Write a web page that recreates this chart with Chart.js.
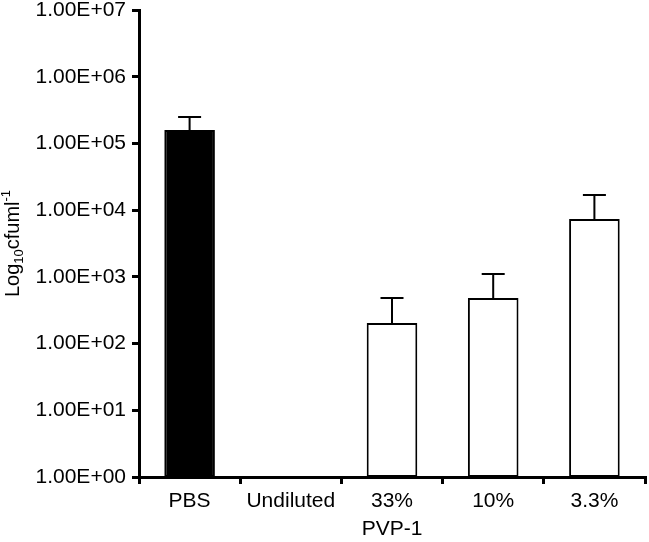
<html>
  <head>
    <meta charset="UTF-8">
    <title>PVP-1 cfu</title>
    <script src="https://cdn.jsdelivr.net/npm/chart.js"></script>
    <style>
      body { margin: 0; background: #fff; }
      #wrap { width: 649px; height: 542px; position: relative; }
    </style>
  </head>
  <body>
    <div id="wrap"><canvas id="cfuChart"></canvas></div>
    <script>
    // values
    const categories = ['PBS', 'Undiluted', '33%', '10%', '3.3%'];
    const means = [159000, null, 204, 483, 7380];
    const errTop = [249000, null, 483, 1100, 16900];
    const barColors = ['#000000', '#ffffff', '#ffffff', '#ffffff', '#ffffff'];
    const yTickValues = [1, 10, 100, 1000, 10000, 100000, 1000000, 10000000];
    const yTickLabels = ['1.00E+00', '1.00E+01', '1.00E+02', '1.00E+03',
                         '1.00E+04', '1.00E+05', '1.00E+06', '1.00E+07'];

    const FONT = '"Liberation Sans", Arial, Helvetica, sans-serif';

    // upward error bars
    const errorBars = {
      id: 'errorBars',
      afterDatasetsDraw(chart) {
        const ctx = chart.ctx;
        const y = chart.scales.y;
        const meta = chart.getDatasetMeta(0);
        ctx.save();
        ctx.strokeStyle = '#000';
        ctx.lineWidth = 2;
        meta.data.forEach((bar, i) => {
          if (means[i] == null || errTop[i] == null) return;
          const top = y.getPixelForValue(errTop[i]);
          ctx.beginPath();
          ctx.moveTo(bar.x, bar.y);
          ctx.lineTo(bar.x, top);
          ctx.moveTo(bar.x - 11.5, top);
          ctx.lineTo(bar.x + 11.5, top);
          ctx.stroke();
        });
        ctx.restore();
      }
    };

    // y title with sub/superscript
    const yTitle = {
      id: 'yTitle',
      afterDraw(chart) {
        const ctx = chart.ctx;
        const area = chart.chartArea;
        const parts = [
          { t: 'Log', size: 20, dy: 0 },
          { t: '10', size: 13, dy: 4 },
          { t: 'cfuml', size: 20, dy: 0 },
          { t: '-1', size: 13, dy: -9 }
        ];
        ctx.save();
        let total = 0;
        parts.forEach(p => {
          ctx.font = p.size + 'px ' + FONT;
          p.w = ctx.measureText(p.t).width;
          total += p.w;
        });
        ctx.translate(19, (area.top + area.bottom) / 2);
        ctx.rotate(-Math.PI / 2);
        ctx.fillStyle = '#000';
        ctx.textBaseline = 'alphabetic';
        let x = -total / 2;
        parts.forEach(p => {
          ctx.font = p.size + 'px ' + FONT;
          ctx.fillText(p.t, x, p.dy);
          x += p.w;
        });
        ctx.restore();
      }
    };

    window.onload = function() {
      new Chart(document.getElementById('cfuChart').getContext('2d'), {
        type: 'bar',
        data: {
          labels: categories,
          datasets: [{
            data: means,
            backgroundColor: barColors,
            borderColor: '#000',
            borderWidth: 2,
            borderSkipped: false,
            barPercentage: 0.5,
            categoryPercentage: 1.0
          }]
        },
        options: {
          responsive: true,
          maintainAspectRatio: false,
          animation: false,
          layout: { padding: { top: 10, right: 4, left: 0, bottom: 0 } },
          plugins: {
            legend: { display: false },
            tooltip: { enabled: false }
          },
          scales: {
            x: {
              offset: true,
              grid: {
                offset: true,
                drawOnChartArea: false,
                drawTicks: true,
                tickLength: 7,
                color: '#000',
                lineWidth: 3
              },
              border: { display: true, color: '#000', width: 3 },
              ticks: {
                color: '#000',
                padding: 5,
                font: { family: FONT, size: 21 }
              },
              title: {
                display: true,
                text: 'PVP-1',
                color: '#000',
                padding: { top: 0, bottom: 0 },
                font: { family: FONT, size: 21 }
              },
              afterFit(scale) { scale.height = 65; }
            },
            y: {
              type: 'logarithmic',
              min: 1,
              max: 10000000,
              grid: {
                drawOnChartArea: false,
                drawTicks: true,
                tickLength: 7,
                color: '#000',
                lineWidth: 3
              },
              border: { display: true, color: '#000', width: 3 },
              afterBuildTicks(scale) {
                scale.ticks = yTickValues.map(v => ({ value: v }));
              },
              ticks: {
                color: '#000',
                padding: 6,
                font: { family: FONT, size: 21 },
                callback(value) {
                  const i = yTickValues.indexOf(value);
                  return i >= 0 ? yTickLabels[i] : '';
                }
              },
              afterFit(scale) {
                scale.width = 139;
                scale.paddingTop = 0;
                scale.paddingBottom = 0;
              }
            }
          }
        },
        plugins: [errorBars, yTitle]
      });
    };
    </script>
  </body>
</html>
